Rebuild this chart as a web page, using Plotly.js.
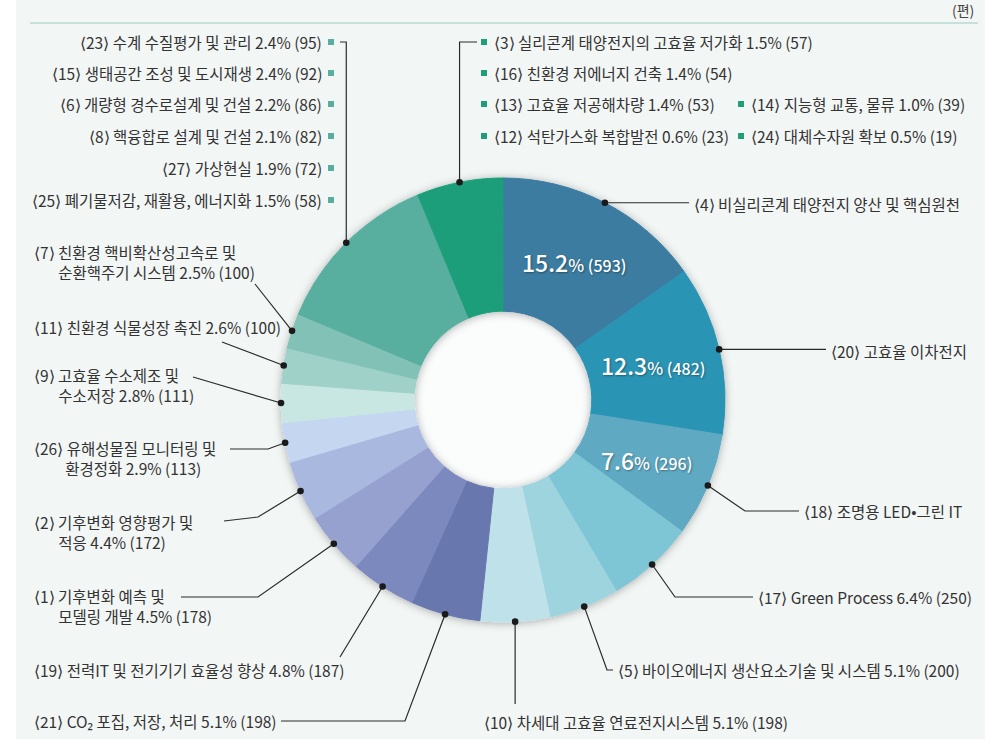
<!DOCTYPE html>
<html><head><meta charset="utf-8">
<script src="https://cdn.plot.ly/plotly-3.0.1.min.js"></script>
<style>html,body{margin:0;padding:0;background:#fff}#chart{width:1007px;height:752px}</style>
</head><body><div id="chart"></div>
<script>
// ---------------- data ----------------
const ids = ['4','20','18','17','5','10','21','19','1','2','26','9','11','7','23','15','6','8','27','25','3','16','13','14','12','24'];
const names = ['비실리콘계 태양전지 양산 및 핵심원천','고효율 이차전지','조명용 LED•그린 IT','Green Process','바이오에너지 생산요소기술 및 시스템','차세대 고효율 연료전지시스템','CO₂ 포집, 저장, 처리','전력IT 및 전기기기 효율성 향상','기후변화 예측 및 모델링 개발','기후변화 영향평가 및 적응','유해성물질 모니터링 및 환경정화','고효율 수소제조 및 수소저장','친환경 식물성장 촉진','친환경 핵비확산성고속로 및 순환핵주기 시스템','수계 수질평가 및 관리','생태공간 조성 및 도시재생','개량형 경수로설계 및 건설','핵융합로 설계 및 건설','가상현실','폐기물저감, 재활용, 에너지화','실리콘계 태양전지의 고효율 저가화','친환경 저에너지 건축','고효율 저공해차량','지능형 교통, 물류','석탄가스화 복합발전','대체수자원 확보'];
const counts = [593,482,296,250,200,198,198,187,178,172,113,111,100,100,95,92,86,82,72,58,57,54,53,39,23,19];
const shares = ['15.2','12.3','7.6','6.4','5.1','5.1','5.1','4.8','4.5','4.4','2.9','2.8','2.6','2.5','2.4','2.4','2.2','2.1','1.9','1.5','1.5','1.4','1.4','1.0','0.6','0.5'];
const tealGroup = ['23','15','6','8','27','25'];
const greenGroup = ['3','16','13','14','12','24'];
const unitLabel = '(편)';

// ---------------- styles / layout geometry ----------------
const W = 1007, H = 752;
const CX = 503, CY = 400, R = 222, HOLE = 0.40;
const FONT = '"Noto Sans CJK KR", "Noto Sans", sans-serif';
const FS = 15.5;
const TXT = '#333333';
const TEAL = '#58ae9f', GREEN = '#1f9e7a';
const sliceColors = {
  '4':'#3a7ba0','20':'#2a94b4','18':'#5ea9c3','17':'#7ec5d5','5':'#9ed4de','10':'#bfe2ea',
  '21':'#6777ae','19':'#7c89bf','1':'#97a1cf','2':'#a8b8df','26':'#c4d6f0','9':'#c9e7e2',
  '11':'#9fd1c8','7':'#82c2b6'
};
tealGroup.forEach(k => sliceColors[k] = TEAL);
greenGroup.forEach(k => sliceColors[k] = GREEN);
const colors = ids.map(k => sliceColors[k]);

const X = p => p / W, Y = p => 1 - p / H;
const idx = k => ids.indexOf(k);
const total = counts.reduce((a, b) => a + b, 0);
const cum = []; counts.reduce((a, v, i) => (cum[i] = a, a + v), 0);
function pointAt(frac, r) {
  const a = frac * 2 * Math.PI;
  return { x: CX + r * Math.sin(a), y: CY - r * Math.cos(a) };
}
function midFrac(list) {
  const f = idx(list[0]), l = idx(list[list.length - 1]);
  const s = Math.min(cum[f], cum[l]), e = Math.max(cum[f] + counts[f], cum[l] + counts[l]);
  return (s + e) / 2 / total;
}
const tag = k => `⟨${k}⟩`;
const fullLabel = k => { const i = idx(k); return `${tag(k)} ${names[i]} ${shares[i]}% (${counts[i]})`; };
const shortLabel = k => `${tag(k)} ${names[idx(k)]}`;

// callouts: label position (pixels, left edge / vertical centre) and leader path after the dot
const callouts = [
  { k:'4',  short:true, pos:[693,204], path:d=>[[689,d.y]] },
  { k:'20', short:true, pos:[830,351], path:d=>[[826,d.y]] },
  { k:'18', short:true, pos:[803,511], path:d=>[[745,511],[799,511]] },
  { k:'17', pos:[757,597], path:d=>[[675,597],[753,597]] },
  { k:'5',  pos:[617,670], path:d=>[[607,670],[613,670]] },
  { k:'10', pos:[483,722], path:d=>[[d.x,704]] },
  { k:'21', pos:[33,721], path:d=>[[405,721],[281,721]] },
  { k:'19', pos:[33,670], path:d=>[[340,657]] },
  { k:'1',  split:4, indent:7, pos:[33,606], path:d=>[[258,597],[181,597]] },
  { k:'2',  split:4, indent:7, pos:[33,532], path:d=>[[258,517],[224,521]] },
  { k:'26', split:4, indent:9, pos:[33,458], path:d=>[[268,449],[230,449]] },
  { k:'9',  split:4, indent:7, pos:[33,385], path:d=>[[193,377]] },
  { k:'11', pos:[33,327], path:d=>[[222,342]] },
  { k:'7',  split:4, indent:7, pos:[33,262], path:d=>[[255,284]] }
];
const rowsY = [42,73,104,136,168,200];
const tealRows = tealGroup.map((k,j) => ({k, x:323, y:rowsY[j], sq:331, anchor:'right'}));
const greenPos = {'3':[0,0],'16':[0,1],'13':[0,2],'14':[1,2],'12':[0,3],'24':[1,3]};
const greenCols = [[484,493],[741,750]];
const greenRows = greenGroup.map(k => ({k, x:greenCols[greenPos[k][0]][1], y:rowsY[greenPos[k][1]], sq:greenCols[greenPos[k][0]][0], anchor:'left'}));

// ---------------- build ----------------
const shapes = [];
const annotations = [];
shapes.push({type:'rect', layer:'below', xref:'paper', yref:'paper', x0:X(16), x1:X(985), y0:Y(739), y1:Y(0), fillcolor:'#f2f6f5', line:{width:0}});
shapes.push({type:'line', layer:'below', xref:'paper', yref:'paper', x0:X(30), x1:X(978), y0:Y(23), y1:Y(23), line:{color:'#c8e0db', width:2}});
const rh = R * HOLE;
shapes.push({type:'circle', layer:'below', xref:'paper', yref:'paper', x0:X(CX-rh), x1:X(CX+rh), y0:Y(CY+rh), y1:Y(CY-rh), fillcolor:'#fbfcfc', line:{width:0}});

function addLeader(d, pts) {
  let p = `M${X(d.x)},${Y(d.y)}`;
  pts.forEach(q => p += ` L${X(q[0])},${Y(q[1])}`);
  shapes.push({type:'path', layer:'above', xref:'paper', yref:'paper', path:p, line:{color:'#2b2b2b', width:1.2}});
  const rd = 3.3;
  shapes.push({type:'circle', layer:'above', xref:'paper', yref:'paper', x0:X(d.x-rd), x1:X(d.x+rd), y0:Y(d.y+rd), y1:Y(d.y-rd), fillcolor:'#1a1a1a', line:{width:0}});
}
function addText(t, x, y, anchor) {
  annotations.push({xref:'paper', yref:'paper', x:X(x), y:Y(y), xanchor:anchor||'left', yanchor:'middle', align:anchor||'left', text:t, showarrow:false, borderpad:0,
    font:{family:FONT, size:FS, color:TXT}});
}

callouts.forEach(c => {
  const i = idx(c.k);
  const d = pointAt((cum[i] + counts[i] / 2) / total, R);
  addLeader(d, c.path(d));
  const s = c.short ? shortLabel(c.k) : fullLabel(c.k);
  if (c.split) {
    const tok = s.split(' ');
    const t = tok.slice(0, c.split).join(' ') + '<br>' + '\u00a0'.repeat(c.indent) + tok.slice(c.split).join(' ');
    addText(t, c.pos[0], c.pos[1]);
  } else {
    addText(s, c.pos[0], c.pos[1]);
  }
});

const dT = pointAt(midFrac(tealGroup), R);
addLeader(dT, [[dT.x, 42], [340, 42]]);
const dG = pointAt(midFrac(greenGroup), R);
addLeader(dG, [[dG.x, 42], [477, 42]]);

[...tealRows.map(r => ({...r, c:TEAL})), ...greenRows.map(r => ({...r, c:GREEN}))].forEach(r => {
  addText(fullLabel(r.k), r.x, r.y, r.anchor);
  shapes.push({type:'rect', layer:'above', xref:'paper', yref:'paper', x0:X(r.sq-3), x1:X(r.sq+3), y0:Y(r.y+3), y1:Y(r.y-3), fillcolor:r.c, line:{width:0}});
});

['4','20','18'].forEach(k => {
  const i = idx(k);
  const p = pointAt((cum[i] + counts[i] / 2) / total, 155);
  annotations.push({xref:'paper', yref:'paper', x:X(p.x), y:Y(p.y), xanchor:'center', yanchor:'middle', showarrow:false,
    text:`<span style="font-size:23px">${shares[i]}</span><span style="font-size:17px">%</span> <span style="font-size:16px">(${counts[i]})</span>`,
    font:{family:FONT, size:16, color:'#ffffff', weight:500, shadow:'1px 1px 2px rgba(0,0,0,0.35)'}});
});

annotations.push({xref:'paper', yref:'paper', x:X(976), y:Y(10), xanchor:'right', yanchor:'middle', text:unitLabel, showarrow:false,
  font:{family:FONT, size:14, color:'#444'}});

const trace = {
  type:'pie', values:counts, labels:ids, sort:false, direction:'clockwise', rotation:0, hole:HOLE,
  textinfo:'none', hoverinfo:'skip',
  marker:{colors:colors, line:{color:colors, width:1}},
  domain:{x:[X(CX-R), X(CX+R)], y:[Y(CY+R), Y(CY-R)]},
  showlegend:false
};

const layout = {
  width:W, height:H, margin:{l:0, r:0, t:0, b:0},
  paper_bgcolor:'#ffffff', showlegend:false,
  shapes, annotations
};

Plotly.newPlot('chart', [trace], layout, {staticPlot:true, displayModeBar:false}).then(gd => {
  const NS = 'http://www.w3.org/2000/svg';
  const svg = gd.querySelector('svg.main-svg');
  const defs = svg.querySelector('defs');
  const f = document.createElementNS(NS, 'filter');
  f.setAttribute('id', 'pieShadow');
  f.setAttribute('x', '-20%'); f.setAttribute('y', '-20%'); f.setAttribute('width', '140%'); f.setAttribute('height', '140%');
  const ds = document.createElementNS(NS, 'feDropShadow');
  ds.setAttribute('dx', '0'); ds.setAttribute('dy', '1'); ds.setAttribute('stdDeviation', '4');
  ds.setAttribute('flood-color', '#000'); ds.setAttribute('flood-opacity', '0.3');
  f.appendChild(ds); defs.appendChild(f);
  gd.querySelectorAll('.pielayer .trace').forEach(t => t.setAttribute('filter', 'url(#pieShadow)'));
});
</script>
</body></html>
